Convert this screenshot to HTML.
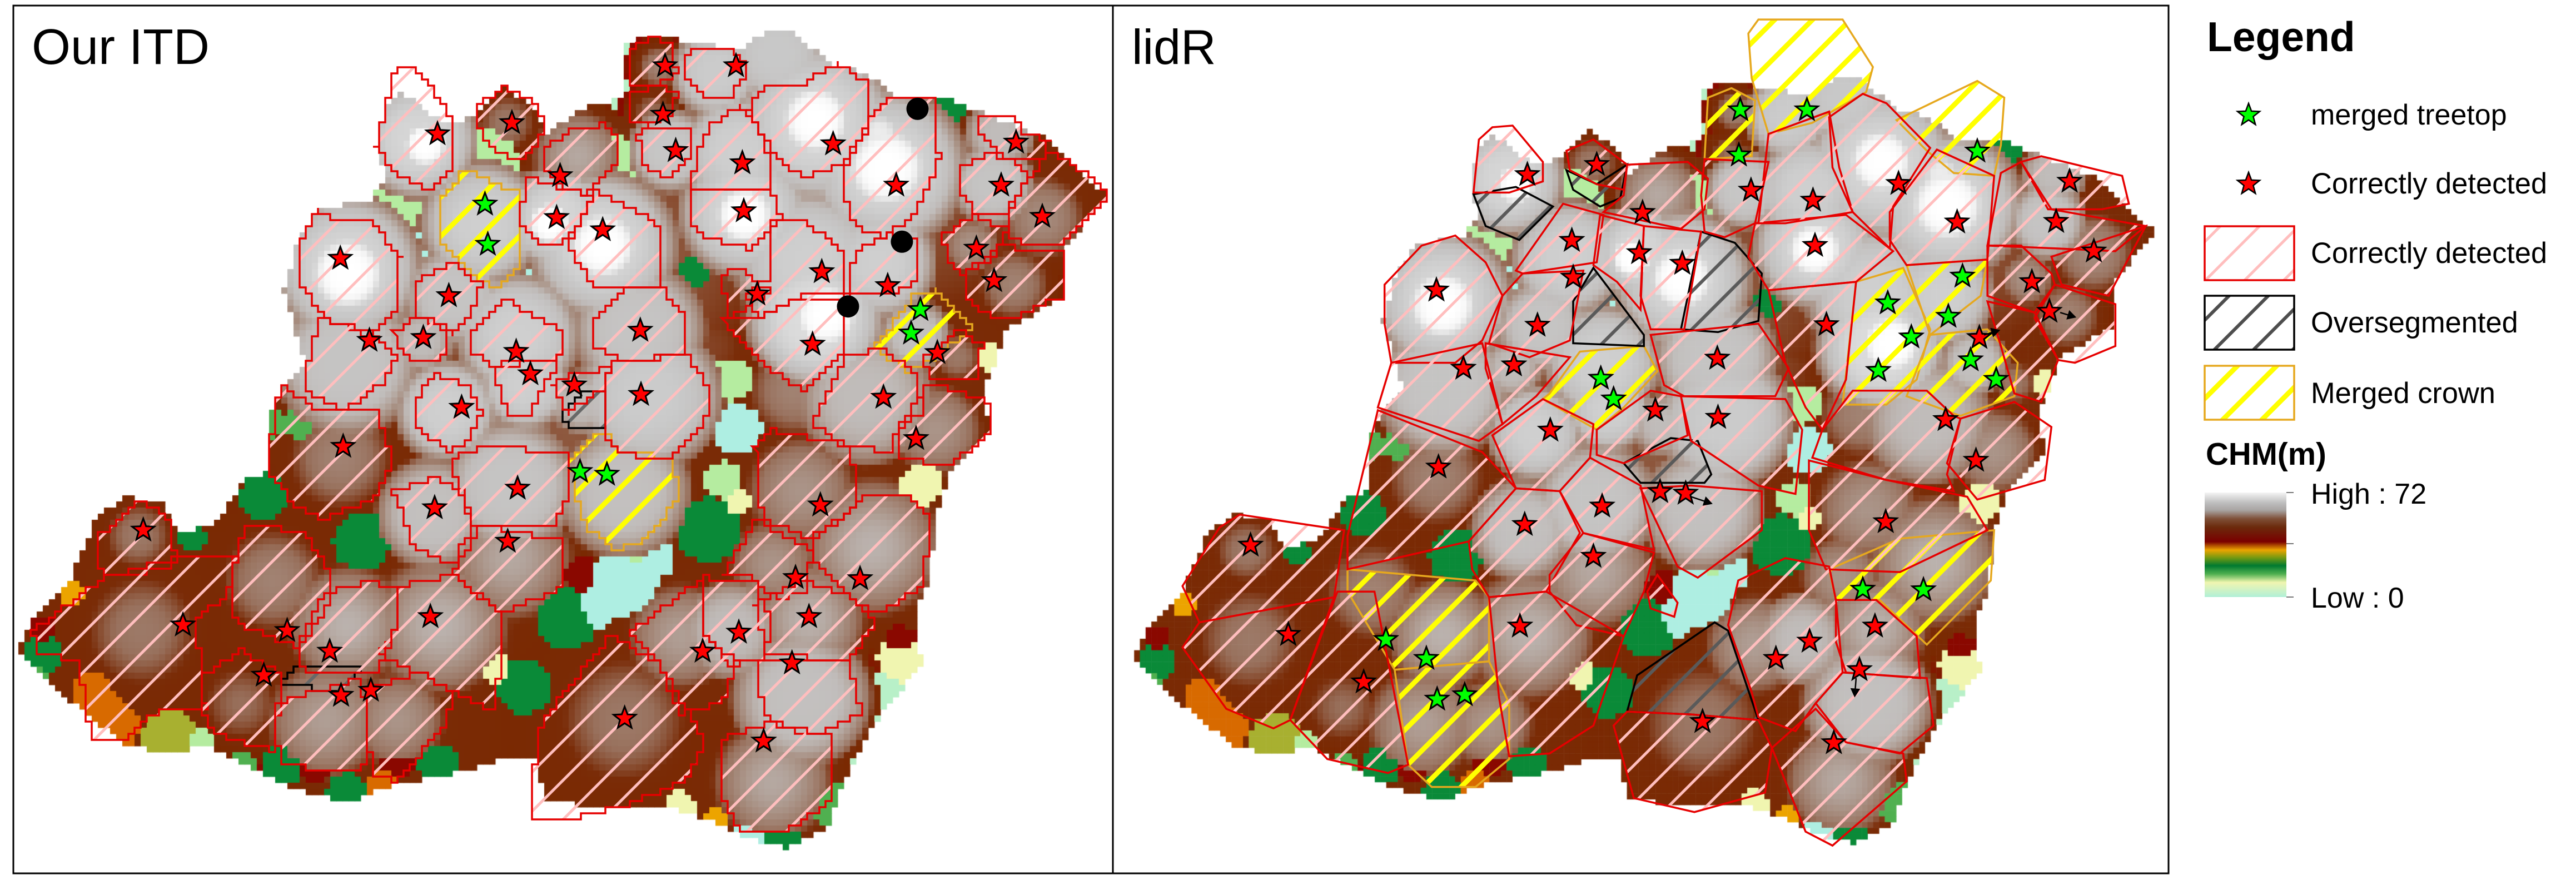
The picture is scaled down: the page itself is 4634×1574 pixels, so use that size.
<!DOCTYPE html>
<html lang="en">
<head>
<meta charset="utf-8">
<title>Our ITD vs lidR crown segmentation</title>
<style>
html,body{margin:0;padding:0;background:#fff;width:4634px;height:1574px;overflow:hidden}
#raster,#overlay{position:absolute;left:0;top:0;width:4634px;height:1574px}
text{font-family:"Liberation Sans",sans-serif;fill:#000}
</style>
</head>
<body>
<canvas id="raster" width="4634" height="1574"></canvas>
<svg id="overlay" xmlns="http://www.w3.org/2000/svg" width="4634" height="1574" viewBox="0 0 4634 1574">
<defs>
<pattern id="hatch-red-l" patternUnits="userSpaceOnUse" width="70.5" height="70.5" patternTransform="translate(19.5,0)"><path d="M-17.6,17.6L17.6,-17.6M0,70.5L70.5,0M52.9,88.1L88.1,52.9" stroke="#ffbebe" stroke-width="5" fill="none"/></pattern>
<pattern id="hatch-black-l" patternUnits="userSpaceOnUse" width="70.5" height="70.5" patternTransform="translate(19.5,0)"><path d="M-17.6,17.6L17.6,-17.6M0,70.5L70.5,0M52.9,88.1L88.1,52.9" stroke="#686868" stroke-width="6" fill="none"/></pattern>
<pattern id="hatch-yellow-l" patternUnits="userSpaceOnUse" width="70.5" height="70.5" patternTransform="translate(19.5,0)"><path d="M-17.6,17.6L17.6,-17.6M0,70.5L70.5,0M52.9,88.1L88.1,52.9" stroke="#ffff00" stroke-width="9" fill="none"/></pattern>
<pattern id="hatch-red-r" patternUnits="userSpaceOnUse" width="68" height="68" patternTransform="translate(32,0)"><path d="M-17,17L17,-17M0,68L68,0M51,85L85,51" stroke="#ffbebe" stroke-width="5" fill="none"/></pattern>
<pattern id="hatch-black-r" patternUnits="userSpaceOnUse" width="68" height="68" patternTransform="translate(32,0)"><path d="M-17,17L17,-17M0,68L68,0M51,85L85,51" stroke="#5a5a5a" stroke-width="6" fill="none"/></pattern>
<pattern id="hatch-yellow-r" patternUnits="userSpaceOnUse" width="68" height="68" patternTransform="translate(32,0)"><path d="M-17,17L17,-17M0,68L68,0M51,85L85,51" stroke="#ffff00" stroke-width="9" fill="none"/></pattern>
<pattern id="hatch-red-k" patternUnits="userSpaceOnUse" width="70.5" height="70.5" patternTransform="translate(30,0)"><path d="M-17.6,17.6L17.6,-17.6M0,70.5L70.5,0M52.9,88.1L88.1,52.9" stroke="#ffbebe" stroke-width="5" fill="none"/></pattern>
<pattern id="hatch-black-k" patternUnits="userSpaceOnUse" width="70.5" height="70.5" patternTransform="translate(30,0)"><path d="M-17.6,17.6L17.6,-17.6M0,70.5L70.5,0M52.9,88.1L88.1,52.9" stroke="#4e4e4e" stroke-width="6" fill="none"/></pattern>
<pattern id="hatch-yellow-k" patternUnits="userSpaceOnUse" width="70.5" height="70.5" patternTransform="translate(30,0)"><path d="M-17.6,17.6L17.6,-17.6M0,70.5L70.5,0M52.9,88.1L88.1,52.9" stroke="#ffff00" stroke-width="9" fill="none"/></pattern>
<linearGradient id="chm-ramp" x1="0" y1="0" x2="0" y2="1">
<stop offset="0" stop-color="#f4f4f4"/><stop offset=".1" stop-color="#bdbdbd"/><stop offset=".17" stop-color="#a8a4a2"/><stop offset=".25" stop-color="#7f5038"/><stop offset=".33" stop-color="#6b2a0c"/><stop offset=".47" stop-color="#7a0000"/><stop offset=".55" stop-color="#eca400"/><stop offset=".62" stop-color="#7a9a10"/><stop offset=".7" stop-color="#007a30"/><stop offset=".78" stop-color="#50b050"/><stop offset=".86" stop-color="#f0f5b0"/><stop offset="1" stop-color="#b0f0d8"/>
</linearGradient>
</defs>
<rect x="24" y="10" width="3877" height="1561" fill="none" stroke="#000" stroke-width="3"/>
<line x1="2002" y1="10" x2="2002" y2="1571" stroke="#000" stroke-width="3"/>
<g id="left-panel"></g>
<g id="right-panel"></g>
<text x="57" y="115" font-size="90">Our ITD</text>
<text x="2036" y="115" font-size="88">lidR</text>
<g>
<text x="3970" y="92" font-size="75" font-weight="bold">Legend</text>
<path id="legend-star-green" d="" fill="#00ff00" stroke="#000" stroke-width="2.5"/>
<text x="4157" y="224" font-size="52">merged treetop</text>
<path id="legend-star-red" d="" fill="#ff0000" stroke="#000" stroke-width="2.5"/>
<text x="4157" y="348" font-size="52.4">Correctly detected</text>
<rect x="3966" y="407" width="161" height="97" fill="url(#hatch-red-k)" stroke="#e60000" stroke-width="3.5"/>
<text x="4157" y="473" font-size="52.4">Correctly detected</text>
<rect x="3966" y="532" width="161" height="97" fill="url(#hatch-black-k)" stroke="#000" stroke-width="3.5"/>
<text x="4157" y="598" font-size="52.4">Oversegmented</text>
<rect x="3966" y="658" width="161" height="97" fill="url(#hatch-yellow-k)" stroke="#e6a81e" stroke-width="3.5"/>
<text x="4157" y="725" font-size="52.4">Merged crown</text>
<text x="3968" y="836" font-size="56.6" font-weight="bold">CHM(m)</text>
<rect x="3966" y="886" width="147" height="188" fill="url(#chm-ramp)"/>
<path d="M4113,886H4126M4113,978H4126M4113,1074H4126" stroke="#777" stroke-width="2"/>
<text x="4157" y="906" font-size="52">High : 72</text>
<text x="4157" y="1093" font-size="52">Low : 0</text>
</g>
</svg>
<script>
// ---- map data, in map units (reference crop coordinates) ----
const landOutline=[25,1170,45,1110,95,1050,135,930,175,890,230,900,250,950,300,945,345,860,375,845,385,720,430,650,400,520,420,430,450,375,520,360,545,320,530,250,545,190,565,160,590,190,610,210,640,220,670,210,710,155,750,190,770,240,830,190,880,175,880,80,910,65,950,70,1040,90,1080,55,1120,55,1170,115,1220,130,1260,170,1340,180,1390,205,1440,230,1480,250,1520,300,1565,355,1500,440,1500,530,1420,590,1390,690,1395,780,1340,850,1320,920,1310,1050,1290,1090,1300,1190,1230,1300,1190,1400,1170,1480,1110,1520,1050,1500,1010,1475,950,1450,850,1450,770,1430,755,1360,710,1360,630,1390,540,1410,490,1440,410,1410,300,1340,220,1345,180,1335,130,1290];
// land patches: x, y, radius, colour index
const landColours=["#aeeee2","#f0f5b0","#b5ecA0","#50b050","#0a8a38","#eca400","#d86a00","#a8b030","#8a0800"];
const landX=[770,600,880,920,840,570,680,860,1000,800,740,1030,1040,1020,1040,510,510,370,385,980,970,270,240,285,1300,1290,1270,150,130,165,100,1130,1340,1020,420,60,50,400,340,490,620,540,640,1190,1060,1010,960,1100,1170,1310,1395,700,900,440,560,60,1270,820];
const landY=[480,420,1040,1000,1090,360,290,300,950,1110,1230,680,770,860,900,970,978,890,760,490,545,960,1320,1330,870,1010,1180,1280,1240,1300,1060,350,190,110,760,1170,1210,1370,1380,1425,1370,1405,720,1440,1490,1465,1445,1510,1450,1100,640,1200,1000,1365,1365,1130,1150,1030];
const landR=[42,36,62,40,40,55,65,60,58,55,50,38,45,34,24,52,20,42,24,28,20,26,50,26,38,24,42,42,36,42,24,24,30,22,26,36,24,36,34,40,38,30,22,40,30,20,28,38,28,22,24,28,22,36,30,26,30,32];
const landC=[0,0,0,0,0,2,2,2,4,4,4,2,0,2,1,4,0,4,3,4,3,4,7,2,1,1,1,6,6,6,5,3,4,3,3,4,3,4,3,4,4,6,1,3,0,5,1,4,3,1,1,1,2,8,8,8,8,8];
// height blobs: x, y, radius (px), peak height (0..1); peaks up to .63 are flat canopy, higher peaks are crowns
const blobX=[1150,1300,650,900,800,200,400,560,870,1060,480,680,1150,1350,1470,1000,1290,1260,90,430,1350,1160,1000,1000,590,715,815,930,920,945,1010,1095,1040,1150,1250,1050,1140,1240,1150,1410,1400,1470,1370,1430,1290,1350,1220,1320,1120,1130,1230,1090,1140,1030,960,1130,1090,880,900,915,850,785,680,640,595,490,490,480,630,730,740,820,610,720,880,720,620,385,490,195,200,90,340,460,560,1150,1250,490,850,775,1165,1050,600,1240];
const blobY=[350,380,400,450,750,1100,1100,1300,1300,1400,800,1060,800,500,370,1150,1120,1160,1140,700,640,620,800,620,250,220,280,120,200,270,130,95,270,220,300,380,470,470,570,240,330,390,440,510,600,640,710,770,700,880,980,1010,1110,1130,1140,1250,1400,1290,590,710,440,390,400,530,610,480,650,820,735,600,690,720,920,870,880,1000,1120,1040,1120,960,1130,1140,1260,1290,1290,215,300,490,440,400,565,385,260,240];
const blobR=[300,220,150,250,200,260,250,230,220,180,190,200,250,150,130,200,90,50,90,120,110,180,120,80,105,75,95,55,55,75,80,90,100,140,140,115,130,100,120,65,75,100,65,90,65,65,125,105,115,125,140,100,115,90,115,125,125,170,120,130,130,90,110,90,60,130,130,130,90,110,80,60,100,120,120,130,140,130,120,90,150,80,110,130,110,70,80,75,70,45,65,60,45,40];
const blobPeak=[.62,.61,.61,.62,.62,.56,.56,.56,.56,.56,.57,.55,.58,.57,.57,.57,.55,.5,.54,.58,.58,.58,.56,.6,.9,.66,.76,.68,.64,.85,.87,.86,.88,.9,.9,.9,.88,.88,.92,.8,.84,.7,.72,.68,.82,.66,.8,.72,.68,.72,.78,.72,.78,.8,.74,.82,.76,.66,.84,.87,.9,.9,.88,.84,.8,.9,.84,.68,.88,.88,.88,.8,.82,.84,.82,.76,.78,.68,.78,.66,.66,.54,.64,.74,.72,1,1,1,1,1,1,1,1,.95];
// treetops
const leftRedX=[617,722,790,785,850,938,935,953,1038,1047,1049,1175,1264,1433,1412,1470,1377,1402,1159,1068,1252,1146,1322,1246,1292,1157,1122,1213,1141,1042,991,1117,1077,881,903,904,810,748,728,651,633,597,521,480,484,613,730,716,607,465,405,372,481,523,258,202];
const leftRedY=[240,220,315,390,412,118,205,270,118,292,378,258,332,255,332,388,445,503,487,527,512,617,632,712,786,905,1035,1037,1105,1133,1167,1188,1328,1287,592,707,690,670,630,730,530,605,610,463,800,910,875,970,1105,1167,1130,1210,1246,1237,1120,950];
const leftGreenX=[684,688,818,856,1298,1285];
const leftGreenY=[366,438,845,850,555,597];
const missedX=[1294,1272,1196];
const missedY=[195,433,549];
const rightRedX=[617,720,788,683,783,685,847,949,1041,1168,1255,1422,1402,1458,1366,1392,1288,1044,1061,899,900,807,632,597,522,482,651,485,613,728,715,814,852,606,374,262,206,1238,1283,1149,1133,1036,986,1110,1072,877];
const rightRedY=[313,295,381,431,453,497,472,341,359,329,398,325,397,450,505,558,605,440,582,642,748,735,583,654,660,520,771,837,940,907,997,881,884,1122,1222,1137,977,752,825,935,1122,1149,1180,1200,1331,1293];
const rightGreenX=[933,1032,931,1285,1263,1152,1242,1187,1138,1275,1313,726,745,1115,1205,407,467,483,524];
const rightGreenY=[197,197,278,271,495,543,567,604,664,645,680,678,715,1056,1057,1146,1180,1253,1245];
// small displacement arrows: fromX, fromY, toX, toY
const arrowFromX=[1295,1408,1105,860];
const arrowFromY=[600,560,1215,890];
const arrowToX=[1317,1430,1103,890];
const arrowToY=[592,568,1247,902];
// crown outlines
const leftCorrectCrowns=[
[560,118,580,118,610,160,640,225,640,300,610,340,560,310,530,260,545,180],
[670,190,710,155,750,180,770,230,750,275,725,285,690,260,672,220],
[765,270,800,235,850,222,875,255,870,290,830,350,790,330,770,310],
[885,90,915,68,945,75,955,130,925,155,890,150],
[887,170,925,155,955,165,950,205,915,225,890,215],
[900,240,925,225,970,225,975,280,945,320,905,295],
[968,100,985,85,1035,90,1055,130,1030,175,990,170,968,140],
[985,270,1000,225,1040,190,1065,215,1085,290,1085,335,975,335],
[1055,195,1080,150,1130,150,1180,115,1225,150,1225,230,1190,290,1140,320,1110,300,1080,250],
[1195,290,1230,210,1260,170,1315,175,1325,290,1290,380,1250,425,1205,405,1190,340],
[975,335,1085,335,1100,390,1060,445,1000,425,975,395],
[1090,395,1135,400,1185,440,1190,535,1130,535,1075,565,1050,530,1090,490],
[1380,205,1425,210,1450,245,1480,250,1475,280,1430,290,1385,245],
[1355,300,1390,275,1440,295,1450,320,1420,380,1375,380,1355,340],
[1440,340,1480,270,1540,320,1565,355,1500,440,1420,430,1420,385],
[1330,420,1370,385,1420,410,1405,460,1360,490,1335,460],
[1360,490,1410,440,1500,455,1500,530,1425,575,1370,550],
[1205,450,1250,420,1290,430,1295,500,1255,530,1195,530],
[1020,575,1075,565,1130,530,1195,530,1190,630,1135,700,1075,650],
[1305,640,1350,590,1385,620,1380,680,1310,680],
[1145,760,1190,640,1240,625,1295,670,1300,740,1265,770,1260,810,1200,800],
[1265,770,1310,685,1395,720,1395,780,1340,835,1265,820],
[1065,805,1090,770,1200,800,1210,910,1145,965,1075,930],
[1145,970,1225,885,1280,885,1315,940,1300,1050,1240,1100,1200,1070,1145,1000],
[1020,1030,1065,930,1145,990,1135,1060,1100,1075,1060,1035],
[1065,1080,1130,1040,1200,1070,1235,1120,1195,1185,1080,1170],
[990,1035,1065,1040,1090,1130,1075,1180,1030,1190,990,1130],
[890,1130,990,1035,990,1130,1040,1190,1020,1260,960,1280,930,1190],
[1070,1180,1195,1180,1215,1280,1150,1320,1085,1290,1068,1230],
[1015,1325,1080,1295,1175,1320,1170,1440,1110,1490,1050,1495,1015,1420],
[765,1290,860,1140,930,1190,995,1330,970,1400,880,1445,800,1470,750,1470,750,1400],
[860,650,970,635,1000,700,995,760,950,820,880,815,850,770],
[835,570,880,520,935,520,970,570,970,630,890,650,840,620],
[665,600,710,535,790,590,790,640,700,660,665,630],
[695,670,710,650,790,640,770,690,750,740,720,745],
[780,690,800,670,860,660,850,700,800,740],
[800,440,840,345,920,395,935,420,935,510,845,520,810,460],
[730,400,745,320,800,340,840,350,800,430,770,440],
[585,505,635,470,680,510,665,560,640,600,590,565],
[555,595,595,565,630,590,630,640,580,650],
[420,440,445,375,470,395,520,395,565,460,555,570,520,600,460,570,425,510],
[430,670,450,570,520,595,560,640,545,680,490,735,430,700],
[380,800,395,690,440,730,530,730,555,830,530,890,460,930,420,910,378,840],
[585,720,610,670,660,690,680,740,655,800,630,810,590,760],
[555,880,610,855,655,880,665,950,640,1010,585,980],
[635,820,680,800,800,810,805,880,780,945,700,940,665,940],
[640,1020,680,940,795,970,795,1050,710,1100,640,1030],
[560,1050,640,1030,705,1100,710,1170,695,1270,640,1240,600,1210,535,1170,560,1120],
[325,1030,345,945,430,950,470,1040,460,1100,420,1160,345,1120,325,1090],
[460,1060,525,1040,560,1060,560,1120,535,1200,430,1205,420,1150],
[135,965,195,895,235,925,250,1010,190,1030,145,1035],
[45,1130,145,1035,250,1000,335,1000,320,1070,275,1110,290,1270,230,1270,170,1330,130,1320,110,1180,55,1175],
[285,1210,340,1165,395,1210,390,1345,340,1330,290,1300],
[390,1260,510,1215,520,1350,510,1385,400,1370,390,1330],
[515,1235,590,1205,640,1240,630,1300,560,1400,530,1390,520,1340],
[1015,490,1040,480,1085,525,1030,570]];
const leftOverCrowns=[
[795,740,820,700,850,700,850,770,800,760],
[395,1225,420,1195,510,1195,480,1240,400,1225]];
const leftMergedCrowns=[
[1240,610,1290,525,1320,520,1370,585,1325,640,1280,665,1235,625],
[620,360,655,305,730,345,735,480,700,520,665,490,625,430],
[805,820,850,770,875,810,950,820,955,890,915,965,870,985,825,940,810,880]];
const rightCorrectCrowns=[
[537,345,545,250,565,228,595,225,640,290,640,325,590,345],
[675,270,715,250,765,295,760,340,720,330,680,305],
[765,295,855,290,885,320,880,375,845,410,730,380,760,350],
[600,485,670,365,730,385,720,470,610,490],
[725,385,790,405,785,555,750,505,715,475],
[790,405,875,415,850,590,800,590,785,530],
[610,490,700,485,680,610,620,640,560,615,580,530],
[405,510,460,440,510,422,555,470,580,530,550,610,510,650,415,650,405,580],
[555,615,680,640,630,710,580,760,555,660],
[415,650,550,615,580,760,545,790,395,730],
[395,735,550,810,600,875,530,970,350,1020,350,960],
[565,780,640,715,715,760,710,820,665,880,600,875],
[720,770,800,700,845,710,855,780,760,830,720,815],
[800,600,960,580,1005,660,985,710,850,710,820,690],
[845,710,1000,715,1025,770,1015,885,960,870,860,790],
[955,400,1090,385,1160,450,1105,505,975,520,945,460],
[975,520,1105,505,1090,680,1055,770,1030,730,1000,650],
[960,400,975,240,1065,200,1080,300,1100,380,1000,400],
[880,285,975,290,955,400,910,425,880,415,875,350],
[1065,210,1115,168,1150,185,1215,265,1160,370,1155,445,1100,380,1070,300],
[1155,380,1225,268,1310,315,1300,465,1180,475,1155,430],
[1350,290,1380,280,1500,315,1510,365,1470,375,1390,375],
[1320,310,1350,290,1395,375,1535,405,1490,450,1400,445,1300,440],
[1395,460,1535,405,1480,530,1410,510],
[1300,440,1350,440,1395,490,1400,510,1370,560,1300,530],
[1370,570,1400,510,1490,545,1490,620,1430,650,1405,645],
[1300,540,1370,560,1405,645,1380,720,1340,705,1320,620],
[1055,770,1100,700,1210,700,1250,745,1260,750,1240,850,1250,880,1150,860,1040,820],
[1260,750,1340,720,1395,765,1385,860,1285,895,1240,830],
[1035,825,1150,860,1270,890,1300,950,1170,1025,1060,1020,1035,950],
[1075,1075,1135,1075,1195,1140,1200,1215,1090,1205,1075,1150],
[915,1120,930,1040,1000,1000,1065,1015,1075,1075,1085,1205,1045,1260,1015,1310,960,1285,950,1240],
[1045,1260,1085,1205,1210,1215,1220,1300,1170,1350,1090,1330],
[980,1340,1045,1270,1090,1330,1175,1350,1180,1400,1070,1515,1030,1490],
[745,1300,765,1275,860,1280,960,1290,980,1340,970,1420,865,1455,775,1430],
[785,875,860,870,965,880,965,950,870,1035,840,1015],
[665,880,710,820,785,870,805,985,700,955],
[530,970,600,875,665,880,695,955,645,1060,560,1070,535,1020],
[650,1030,700,955,805,990,790,1060,760,1140,690,1120,650,1060],
[795,1060,810,1030,840,1080,835,1105,800,1090],
[560,1070,645,1060,760,1140,715,1300,650,1350,590,1355,575,1250],
[265,1290,335,1060,390,1060,440,1370,410,1385,320,1360],
[105,1160,130,1115,330,1070,265,1290,240,1305,170,1270],
[105,1050,160,945,190,922,345,950,330,1070,130,1115]];
const rightOverCrowns=[
[537,348,600,335,655,370,605,430,555,405],
[675,305,720,330,765,295,755,355,725,370,685,340],
[875,415,925,435,965,490,960,575,900,595,845,590],
[685,540,715,480,790,600,790,620,685,615],
[760,830,830,785,870,790,890,850,880,865,785,865],
[765,1275,780,1210,895,1115,915,1130,960,1290,860,1280]];
const rightMergedCrowns=[
[650,705,695,630,790,620,810,665,760,730,720,770,640,715],
[880,285,885,175,920,158,955,180,950,280],
[945,60,960,35,1085,35,1130,120,1120,165,1040,220,975,240,950,140],
[1165,215,1285,145,1325,175,1320,260,1310,315,1250,310,1210,270],
[1105,505,1175,480,1215,590,1195,680,1150,725,1085,725],
[1180,475,1300,465,1290,530,1215,600],
[1215,600,1300,590,1345,650,1340,710,1260,745,1180,710],
[1065,1020,1170,965,1310,950,1305,1040,1210,1155,1140,1075,1075,1075],
[350,1060,350,1020,540,1040,560,1070,560,1185,420,1200,395,1150],
[420,1200,560,1185,590,1260,590,1360,540,1410,475,1410,440,1370]];

// ---- axis functions ----
const leftX=v=>v*1.2755;
const leftY=v=>v*1.004;
const rightX=v=>2000+v*1.2117;
const rightY=v=>v*1.004;
const NS='http://www.w3.org/2000/svg';

// ---- CHM colour ramp ----
const rampStops=[[.42,[138,8,0]],[.5,[122,40,0]],[.58,[122,44,8]],[.64,[152,112,92]],[.72,[170,148,136]],[.8,[192,188,186]],[.86,[200,200,200]],[.92,[220,220,220]],[.97,[246,246,246]],[1,[255,255,255]]];
function rampColour(v){
  for(let i=1;i<rampStops.length;i++){
    if(v<=rampStops[i][0]){
      const a=rampStops[i-1],b=rampStops[i];
      const t=Math.max(0,(v-a[0])/(b[0]-a[0]));
      return 'rgb('+[0,1,2].map(k=>Math.round(a[1][k]+(b[1][k]-a[1][k])*t)).join(',')+')';
    }
  }
  return '#fff';
}
function insideLand(px,py){
  let inside=false;
  const n=landOutline.length/2;
  for(let i=0,j=n-1;i<n;j=i++){
    const xi=leftX(landOutline[2*i]),yi=leftY(landOutline[2*i+1]),xj=leftX(landOutline[2*j]),yj=leftY(landOutline[2*j+1]);
    if((yi>py)!==(yj>py)&&px<(xj-xi)*(py-yi)/(yj-yi)+xi)inside=!inside;
  }
  return inside;
}
function cellColour(px,py){
  if(!insideLand(px,py))return null;
  let best=-1;
  for(let b=0;b<blobX.length;b++){
    const peak=blobPeak[b];
    const flat=peak<=.63;
    const r=flat?blobR[b]:blobR[b]*1.12;
    const dx=px-leftX(blobX[b]),dy=py-leftY(blobY[b]);
    const q=(dx*dx+dy*dy)/(r*r);
    if(q<1){
      const fall=peak<.8?q:q*q;
      const v=flat?peak*(1-.08*q):peak*(1-.38*fall);
      if(v>best)best=v;
    }
  }
  let patch=null;
  let bestQ=1;
  for(let l=0;l<landX.length;l++){
    const dx=px-leftX(landX[l]),dy=py-leftY(landY[l]),r=landR[l];
    const q=(dx*dx+dy*dy)/(r*r);
    if(q<bestQ){bestQ=q;patch=landColours[landC[l]];}
  }
  if(patch&&best<.63)return patch;
  if(best>=.34)return rampColour(best);
  return '#b8f0c8';
}
const cell=11;
const ctx=document.getElementById('raster').getContext('2d');
ctx.fillStyle='#fff';
ctx.fillRect(0,0,4634,1574);
for(let gy=0;gy<143;gy++){
  for(let gx=0;gx<182;gx++){
    const px=gx*cell+cell/2,py=gy*cell+cell/2;
    const c=cellColour(px,py);
    if(!c)continue;
    ctx.fillStyle=c;
    ctx.fillRect(px-cell/2,py-cell/2,cell+.5,cell+.5);
    const s=.937;
    ctx.fillRect(2009.3+s*(px-cell/2),87.4+s*(py-cell/2),s*cell+.5,s*cell+.5);
  }
}

// ---- marks ----
function starPath(cx,cy,R){
  let d='';
  for(let i=0;i<10;i++){
    const r=i%2?R*.42:R;
    const a=-Math.PI/2+i*Math.PI/5;
    d+=(i?'L':'M')+(cx+r*Math.cos(a)).toFixed(1)+','+(cy+r*Math.sin(a)).toFixed(1);
  }
  return d+'Z';
}
function polyPoints(arr,fx,fy){
  const out=[];
  for(let i=0;i<arr.length;i+=2)out.push(fx(arr[i]).toFixed(1)+','+fy(arr[i+1]).toFixed(1));
  return out.join(' ');
}
// the raster-derived crowns of the left panel follow the cell grid as staircases
function stairPoints(arr,fx,fy){
  const out=[];
  const n=arr.length/2;
  let lx=null,ly=null;
  for(let i=0;i<n;i++){
    const x1=fx(arr[2*i]),y1=fy(arr[2*i+1]);
    const x2=fx(arr[2*((i+1)%n)]),y2=fy(arr[2*((i+1)%n)+1]);
    const steps=Math.ceil(Math.hypot(x2-x1,y2-y1)/4);
    for(let k=0;k<steps;k++){
      const sx=Math.round((x1+(x2-x1)*k/steps)/cell)*cell;
      const sy=Math.round((y1+(y2-y1)*k/steps)/cell)*cell;
      if(sx===lx&&sy===ly)continue;
      if(lx!==null&&sx!==lx&&sy!==ly)out.push(sx+','+ly);
      out.push(sx+','+sy);
      lx=sx;ly=sy;
    }
  }
  return out.join(' ');
}
function drawCrowns(parent,list,pointsFn,fx,fy,hatch,stroke,name){
  list.forEach(arr=>{
    const p=document.createElementNS(NS,'polygon');
    p.setAttribute('points',pointsFn(arr,fx,fy));
    p.setAttribute('fill','url(#'+hatch+')');
    p.setAttribute('stroke',stroke);
    p.setAttribute('stroke-width','3.5');
    
    
    parent.appendChild(p);
  });
}
function drawStars(parent,xs,ys,fx,fy,fill,name){
  xs.forEach((x,i)=>{
    const p=document.createElementNS(NS,'path');
    p.setAttribute('d',starPath(fx(x),fy(ys[i]),21));
    p.setAttribute('fill',fill);
    p.setAttribute('stroke','#000');
    p.setAttribute('stroke-width','3');
    
    
    parent.appendChild(p);
  });
}
const leftG=document.getElementById('left-panel');
const rightG=document.getElementById('right-panel');
drawCrowns(leftG,leftMergedCrowns,stairPoints,leftX,leftY,'hatch-yellow-l','#e6a81e','merged-crown');
drawCrowns(leftG,leftOverCrowns,stairPoints,leftX,leftY,'hatch-black-l','#000','oversegmented-crown');
drawCrowns(leftG,leftCorrectCrowns,stairPoints,leftX,leftY,'hatch-red-l','#e60000','correct-crown');
drawStars(leftG,leftRedX,leftRedY,leftX,leftY,'#ff0000','correct-treetop');
drawStars(leftG,leftGreenX,leftGreenY,leftX,leftY,'#00ff00','merged-treetop');
missedX.forEach((x,i)=>{
  const c=document.createElementNS(NS,'circle');
  c.setAttribute('cx',leftX(x));
  c.setAttribute('cy',leftY(missedY[i]));
  c.setAttribute('r','20');
  c.setAttribute('fill','#000');
  
  
  leftG.appendChild(c);
});
drawCrowns(rightG,rightMergedCrowns,polyPoints,rightX,rightY,'hatch-yellow-r','#e6a81e','merged-crown');
drawCrowns(rightG,rightOverCrowns,polyPoints,rightX,rightY,'hatch-black-r','#000','oversegmented-crown');
drawCrowns(rightG,rightCorrectCrowns,polyPoints,rightX,rightY,'hatch-red-r','#e60000','correct-crown');
drawStars(rightG,rightRedX,rightRedY,rightX,rightY,'#ff0000','correct-treetop');
drawStars(rightG,rightGreenX,rightGreenY,rightX,rightY,'#00ff00','merged-treetop');
arrowFromX.forEach((x,i)=>{
  const x1=rightX(x),y1=rightY(arrowFromY[i]),x2=rightX(arrowToX[i]),y2=rightY(arrowToY[i]);
  const a=Math.atan2(y2-y1,x2-x1);
  const h=14;
  const d='M'+x1+','+y1+'L'+x2+','+y2+
    'M'+x2+','+y2+'L'+(x2-h*Math.cos(a-.5))+','+(y2-h*Math.sin(a-.5))+'L'+(x2-h*Math.cos(a+.5))+','+(y2-h*Math.sin(a+.5))+'Z';
  const p=document.createElementNS(NS,'path');
  p.setAttribute('d',d);
  p.setAttribute('stroke','#000');
  p.setAttribute('stroke-width','2.5');
  p.setAttribute('fill','#000');
  
  
  rightG.appendChild(p);
});
document.getElementById('legend-star-green').setAttribute('d',starPath(4045,207,21));
document.getElementById('legend-star-red').setAttribute('d',starPath(4045,331,21));
</script>
</body>
</html>
